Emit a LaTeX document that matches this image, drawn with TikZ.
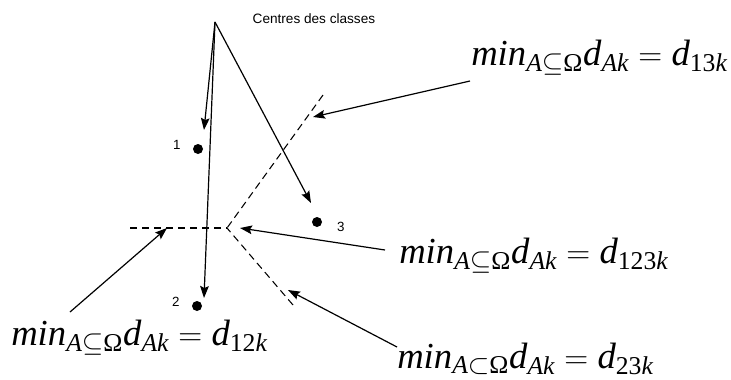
\documentclass[tikz,border=0pt]{standalone}
\usepackage{amsmath}
\usepackage{amssymb}
\usepackage{fontspec}
\setmainfont{Liberation Serif}
\setsansfont{Liberation Sans}
\usepackage{tikz}
\usetikzlibrary{positioning, arrows.meta, calc}
\newcommand{\ti}[1]{\text{\itshape #1}}
\newcommand{\tu}[1]{\text{\upshape #1}}
\tikzset{
  centre/.style = {circle, fill=black, inner sep=0pt, minimum size=7.5pt},
  num/.style    = {font=\sffamily\fontsize{10}{11}\selectfont, inner sep=1pt},
  eqn/.style    = {font=\fontsize{27.5}{30}\selectfont, inner sep=0pt, anchor=base west},
  ar/.style     = {-{Stealth[length=9pt,width=6.5pt,inset=1.5pt]}, line width=0.9pt},
  bord/.style   = {dashed, dash pattern=on 5.5pt off 3.5pt, line width=0.8pt},
}
\begin{document}
\begin{tikzpicture}[x=0.75pt, y=-0.75pt]
  \useasboundingbox (0,0) rectangle (731,379);

  % ----- class centres -----
  \node[centre] (c1) at (198,149) {};
  \node[centre] (c2) at (197,306) {};
  \node[centre] (c3) at (317,222) {};
  \node[num, left=8pt of c1, yshift=3pt] (n1) {1};
  \node[num, left=8pt of c2, yshift=3pt] (n2) {2};
  \node[num, right=10pt of c3, yshift=-4pt] (n3) {3};

  \coordinate (apex) at (215,22);
  \node[font=\sffamily\fontsize{10.2}{11}\selectfont, anchor=west] (ttl) at (248,19) {Centres des classes};

  \coordinate (t1) at (204,130);
  \coordinate (t2) at (204,298);
  \coordinate (t3) at (311,203);
  \draw[ar] (apex) -- (t1);
  \draw[ar] (apex) -- (t2);
  \draw[ar] (apex) -- (t3);

  % ----- frontiers -----
  \coordinate (v) at (227,228);
  \coordinate (fl) at (130,228);
  \coordinate (fu) at (323,95);
  \coordinate (fd) at (293,305);
  \draw[bord] (fl) -- (v);
  \draw[bord] (fu) -- (v);
  \draw[bord] (fd) -- (v);

  % ----- labels -----
  \node[eqn] (l13) at (471,65)
    {$\ti{min}_{\ti{A}\subseteq\tu{Ω}}\ti{d}_{\ti{Ak}}=\ti{d}_{\tu{13}\ti{k}}$};
  \node[eqn] (l123) at (399,263)
    {$\ti{min}_{\ti{A}\subseteq\tu{Ω}}\ti{d}_{\ti{Ak}}=\ti{d}_{\tu{123}\ti{k}}$};
  \node[eqn] (l23) at (397,368)
    {$\ti{min}_{\ti{A}\subset\tu{Ω}}\ti{d}_{\ti{Ak}}=\ti{d}_{\tu{23}\ti{k}}$};
  \node[eqn] (l12) at (11,345)
    {$\ti{min}_{\ti{A}\subseteq\tu{Ω}}\ti{d}_{\ti{Ak}}=\ti{d}_{\tu{12}\ti{k}}$};

  \coordinate (s13) at (470,81);
  \coordinate (s123) at (385,250);
  \coordinate (s23) at (397,347);
  \coordinate (s12) at (70,312);
  \coordinate (e13) at (313,117);
  \coordinate (e123) at (240,228);
  \coordinate (e23) at (288,290);
  \coordinate (e12) at (167,228);
  \draw[ar] (s13) -- (e13);
  \draw[ar] (s123) -- (e123);
  \draw[ar] (s23) -- (e23);
  \draw[ar] (s12) -- (e12);

\end{tikzpicture}
\end{document}
